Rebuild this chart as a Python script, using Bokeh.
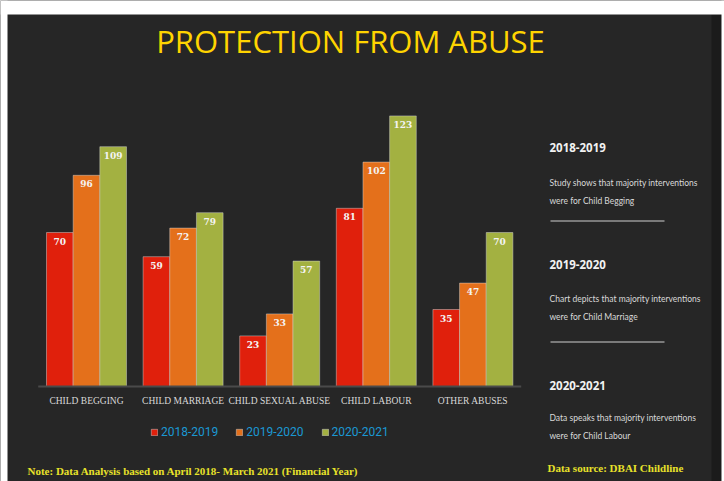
from bokeh.plotting import figure
from bokeh.models import ColumnDataSource, Range1d, Label, Legend, LegendItem, BoxAnnotation
from bokeh.core.properties import value
from bokeh.embed import file_html
from bokeh.resources import INLINE

categories = ["CHILD BEGGING", "CHILD MARRIAGE", "CHILD SEXUAL ABUSE", "CHILD LABOUR", "OTHER ABUSES"]
series_names = ["2018-2019", "2019-2020", "2020-2021"]
v2018 = [70, 59, 23, 81, 35]
v2019 = [96, 72, 33, 102, 47]
v2020 = [109, 79, 57, 123, 70]
colors = ["#e0200c", "#e4701b", "#a3b141"]

title_text = "PROTECTION FROM ABUSE"
side_heads = ["2018-2019", "2019-2020", "2020-2021"]
side_lines = [
    ("Study shows that majority interventions", "were for Child Begging"),
    ("Chart depicts that majority interventions", "were for Child Marriage"),
    ("Data speaks that majority interventions", "were for Child Labour"),
]
note_text = "Note: Data Analysis based on April 2018- March 2021  (Financial Year)"
source_text = "Data source: DBAI Childline"

BG = "#262626"
W, H = 724, 481

n = len(categories)
idx = list(range(n))
bw = 0.276

src = ColumnDataSource(data=dict(
    cat=categories, i=idx,
    xa=[i - bw for i in idx], xb=idx, xc=[i + bw for i in idx],
    a=v2018, b=v2019, c=v2020,
    la=[str(v) for v in v2018], lb=[str(v) for v in v2019], lc=[str(v) for v in v2020],
))

# one category = 96.6 px, first category centred 86 px from the left edge
cat_px = 96.6
x0_px = 86
# 2.2 px per case, baseline 95 px above the bottom edge
y_px = 2.2
base_px = 95

p = figure(
    x_range=Range1d(-x0_px / cat_px, (W - x0_px) / cat_px),
    y_range=Range1d(-base_px / y_px, (H - base_px) / y_px),
    width=W, height=H,
    output_backend="svg", toolbar_location=None,
    x_axis_location=None, y_axis_location=None,
    min_border=0,
    background_fill_color=BG, border_fill_color=BG,
)
p.outline_line_color = None
p.xgrid.grid_line_color = None
p.ygrid.grid_line_color = None


def sy(page_y):
    return H - page_y


def box(left, right, top, bottom, color):
    p.add_layout(BoxAnnotation(left=left, right=right, bottom=sy(bottom), top=sy(top),
                               left_units="screen", right_units="screen",
                               bottom_units="screen", top_units="screen",
                               fill_color=color, fill_alpha=1, line_alpha=0))


# panel frame: white margins top/left/right and a darker bevel on the right
box(711, 721, 14, H, "#1b1b1b")
box(0, W, 0, 14, "white")
box(0, 7, 0, H, "white")
box(721, W, 0, H, "white")

renderers = []
for xcol, col, lc, color in zip(["xa", "xb", "xc"], ["a", "b", "c"], ["la", "lb", "lc"], colors):
    r = p.vbar(x=xcol, top=col, width=bw, source=src,
               fill_color=color, line_color="#d9d9d9", line_alpha=0.45, line_width=1)
    renderers.append(r)
    p.text(x=xcol, y=col, text=lc, source=src,
           text_align="center", text_baseline="top", y_offset=5,
           text_color="#f4f4f4", text_font=value("DejaVu Serif"), text_font_style="bold",
           text_font_size="9px")

# category axis line and labels
p.segment(x0=[-0.5], x1=[n - 0.5], y0=[0], y1=[0], line_color="#4a4a4a", line_width=2)
p.text(x="i", y=0, text="cat", source=src, text_align="center", text_baseline="top",
       y_offset=9, text_color="#d9d9d9", text_font=value("Liberation Serif"),
       text_font_size="9.5px")

legend = Legend(
    items=[LegendItem(label=s, renderers=[r]) for s, r in zip(series_names, renderers)],
    orientation="horizontal", location=(150, 42),
    glyph_width=8, glyph_height=8, label_standoff=3, spacing=17,
    padding=0, margin=0, border_line_alpha=0, background_fill_alpha=0,
    label_text_color="#1b98d3", label_text_font="Roboto", label_text_font_size="12px",
)
p.add_layout(legend, "center")

p.add_layout(Label(x=350, y=sy(40.5), x_units="screen", y_units="screen", text=title_text,
                   text_align="center", text_baseline="middle", text_color="#ffd400",
                   text_font="Open Sans", text_font_size="31px"))

head_y = [147, 264, 385]
line1_y = [182, 298, 417]
line2_y = [200, 316, 435]
for h, (l1, l2), hy, y1, y2 in zip(side_heads, side_lines, head_y, line1_y, line2_y):
    p.add_layout(Label(x=549, y=sy(hy), x_units="screen", y_units="screen", text=h,
                       text_align="left", text_baseline="middle", text_color="#f2f2f2",
                       text_font="Open Sans", text_font_style="bold", text_font_size="11.5px"))
    p.add_layout(Label(x=549, y=sy(y1), x_units="screen", y_units="screen", text=l1,
                       text_align="left", text_baseline="middle", text_color="#d9d9d9",
                       text_font="Lato", text_font_size="8.5px"))
    p.add_layout(Label(x=549, y=sy(y2), x_units="screen", y_units="screen", text=l2,
                       text_align="left", text_baseline="middle", text_color="#d9d9d9",
                       text_font="Lato", text_font_size="8.5px"))

for ly in [220.5, 341.5]:
    box(550, 664, ly - 1, ly + 1, "#7a7a7a")

p.add_layout(Label(x=27, y=sy(470), x_units="screen", y_units="screen", text=note_text,
                   text_align="left", text_baseline="middle", text_color="#e8e22a",
                   text_font="Liberation Serif", text_font_style="bold", text_font_size="11px"))
p.add_layout(Label(x=547, y=sy(467), x_units="screen", y_units="screen", text=source_text,
                   text_align="left", text_baseline="middle", text_color="#e8e22a",
                   text_font="Liberation Serif", text_font_style="bold", text_font_size="11px"))

open("out.html", "w").write(file_html(p, INLINE))
